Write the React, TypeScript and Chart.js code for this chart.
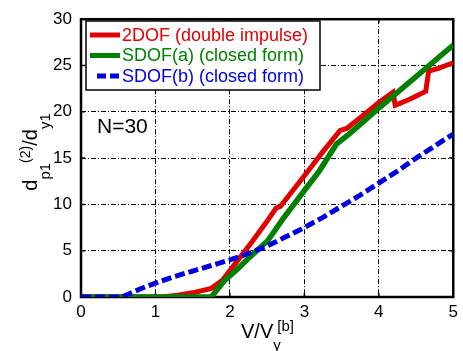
import React, { useEffect, useRef } from "react";
import { Chart, registerables } from "chart.js";

Chart.register(...registerables);

// ---- Data ----
const xTicks = [0, 1, 2, 3, 4, 5];
const yTicks = [0, 5, 10, 15, 20, 25, 30];

const red2dofX = [0, 1.1, 1.3, 1.5, 1.75, 1.9, 2.1, 2.3, 2.5, 2.62, 2.68, 3.0, 3.25, 3.48, 3.57, 3.8, 4.0, 4.19, 4.22, 4.4, 4.63, 4.67, 4.8, 5.0];
const red2dofY = [0, 0, 0.2, 0.45, 0.93, 1.8, 3.9, 6.0, 8.2, 9.6, 9.8, 13.1, 15.7, 18.0, 18.2, 19.7, 21.0, 22.1, 20.7, 21.3, 22.2, 24.4, 24.7, 25.3];

const greenSdofAX = [0, 1.75, 1.93, 2.1, 2.24, 2.51, 2.71, 3.0, 3.2, 3.43, 3.6, 4.0, 4.5, 5.0];
const greenSdofAY = [0, 0, 1.8, 3.0, 4.1, 6.1, 8.4, 11.5, 13.6, 16.5, 17.6, 20.4, 23.8, 27.2];

const blueSdofBX = [0, 0.55, 0.7, 0.85, 1.0, 1.25, 1.5, 1.75, 2.0, 2.25, 2.5, 2.75, 3.0, 3.25, 3.5, 3.75, 4.0, 4.25, 4.5, 4.75, 5.0];
const blueSdofBY = [0, 0, 0.55, 1.05, 1.5, 2.2, 2.8, 3.4, 4.0, 4.7, 5.5, 6.5, 7.5, 8.6, 9.8, 11.0, 12.3, 13.6, 15.0, 16.3, 17.6];

const legendLabels = ["2DOF (double impulse)", "SDOF(a) (closed form)", "SDOF(b) (closed form)"];

const RED = "#e00000";
const GREEN = "#008000";
const BLUE = "#0000dd";
const FONT = "'Liberation Sans', Arial, sans-serif";

const toPoints = (xs: number[], ys: number[]) => xs.map((x, i) => ({ x, y: ys[i] }));

const decorPlugin = {
  id: "decor",
  beforeDatasetsDraw(chart: any) {
    const { ctx, chartArea: a, scales } = chart;
    ctx.save();
    // inward tick marks
    ctx.strokeStyle = "#000";
    ctx.lineWidth = 1.5;
    ctx.setLineDash([]);
    const tl = 4;
    xTicks.forEach((v) => {
      const px = scales.x.getPixelForValue(v);
      ctx.beginPath();
      ctx.moveTo(px, a.bottom);
      ctx.lineTo(px, a.bottom - tl);
      ctx.moveTo(px, a.top);
      ctx.lineTo(px, a.top + tl);
      ctx.stroke();
    });
    yTicks.forEach((v) => {
      const py = scales.y.getPixelForValue(v);
      ctx.beginPath();
      ctx.moveTo(a.left, py);
      ctx.lineTo(a.left + tl, py);
      ctx.moveTo(a.right, py);
      ctx.lineTo(a.right - tl, py);
      ctx.stroke();
    });
    // frame
    ctx.lineWidth = 2.5;
    ctx.strokeRect(a.left, a.top, a.right - a.left, a.bottom - a.top);
    ctx.restore();
  },
  afterDatasetsDraw(chart: any) {
    const { ctx } = chart;
    ctx.save();
    // legend box
    const bx = 86, by = 21, bw = 234, bh = 69;
    ctx.fillStyle = "#fff";
    ctx.fillRect(bx, by, bw, bh);
    ctx.strokeStyle = "#000";
    ctx.lineWidth = 1.5;
    ctx.setLineDash([]);
    ctx.strokeRect(bx, by, bw, bh);
    const rows = [35, 55.5, 76];
    const colors = [RED, GREEN, BLUE];
    ctx.font = `18px ${FONT}`;
    ctx.textBaseline = "middle";
    ctx.textAlign = "left";
    rows.forEach((ry, i) => {
      ctx.strokeStyle = colors[i];
      ctx.lineWidth = 5;
      ctx.lineCap = "butt";
      ctx.beginPath();
      if (i === 2) {
        ctx.setLineDash([9, 4]);
        ctx.moveTo(97, ry);
      } else {
        ctx.setLineDash([]);
        ctx.moveTo(90, ry);
      }
      ctx.lineTo(120, ry);
      ctx.stroke();
      ctx.setLineDash([]);
      ctx.fillStyle = colors[i];
      ctx.fillText(legendLabels[i], 122, ry + 1);
    });
    // N=30 annotation
    ctx.fillStyle = "#000";
    ctx.font = `21px ${FONT}`;
    ctx.textBaseline = "alphabetic";
    ctx.fillText("N=30", 97, 133);
    ctx.restore();
  },
  afterDraw(chart: any) {
    const { ctx } = chart;
    ctx.save();
    ctx.fillStyle = "#000";
    ctx.textBaseline = "alphabetic";
    ctx.textAlign = "left";
    const F = `20px ${FONT}`;
    const f = `15px ${FONT}`;
    const fs = `14px ${FONT}`;
    // X title: V/V_y^[b]
    let x = 241;
    const base = 338;
    ctx.font = F;
    ctx.fillText("V/V", x, base);
    x += ctx.measureText("V/V").width;
    ctx.font = f;
    ctx.fillText("y", x, base + 12);
    ctx.fillText("[b]", x + 4, base - 7);

    // Y title: d_p1^(2)/d_y1 (rotated)
    const parts: [string, string, number][] = [
      ["d", F, 0],
      ["p1", f, 13],
      ["(2)", fs, -7],
      ["/d", F, 0],
      ["y1", f, 13],
    ];
    let total = 0;
    parts.forEach(([t, font]) => {
      ctx.font = font;
      total += ctx.measureText(t).width;
    });
    ctx.translate(37, 152 + total / 2);
    ctx.rotate(-Math.PI / 2);
    let cx = 0;
    parts.forEach(([t, font, dy]) => {
      ctx.font = font;
      ctx.fillText(t, cx, dy);
      cx += ctx.measureText(t).width;
    });
    ctx.restore();
  },
};

export default function App() {
  const ref = useRef<HTMLCanvasElement>(null);
  useEffect(() => {
    document.body.style.margin = "0";
    if (!ref.current) return;
    const chart = new Chart(ref.current, {
      type: "line",
      data: {
        datasets: [
          {
            label: legendLabels[0],
            data: toPoints(red2dofX, red2dofY),
            borderColor: RED,
            borderWidth: 5,
            pointRadius: 0,
            tension: 0,
            order: 3,
          },
          {
            label: legendLabels[1],
            data: toPoints(greenSdofAX, greenSdofAY),
            borderColor: GREEN,
            borderWidth: 5.5,
            pointRadius: 0,
            tension: 0,
            order: 2,
          },
          {
            label: legendLabels[2],
            data: toPoints(blueSdofBX, blueSdofBY),
            borderColor: BLUE,
            borderWidth: 5,
            borderDash: [10, 4],
            pointRadius: 0,
            tension: 0,
            order: 1,
          },
        ],
      },
      options: {
        animation: false,
        responsive: false,
        devicePixelRatio: 1,
        layout: { padding: { left: 0, right: 5, top: 16, bottom: 0 } },
        plugins: { legend: { display: false }, tooltip: { enabled: false } },
        scales: {
          x: {
            type: "linear",
            min: 0,
            max: 5,
            afterFit: (s: any) => {
              s.height = 54;
            },
            afterBuildTicks: (s: any) => {
              s.ticks = xTicks.map((v) => ({ value: v }));
            },
            ticks: {
              color: "#000",
              font: { family: FONT, size: 17 },
              padding: 5,
              maxRotation: 0,
            },
            grid: { color: "#000", lineWidth: 1, drawTicks: false },
            border: { display: false, dash: [5, 2, 1, 2] },
          },
          y: {
            type: "linear",
            min: 0,
            max: 30,
            afterFit: (s: any) => {
              s.width = 81;
            },
            afterBuildTicks: (s: any) => {
              s.ticks = yTicks.map((v) => ({ value: v }));
            },
            ticks: {
              color: "#000",
              font: { family: FONT, size: 17 },
              padding: 9,
            },
            grid: { color: "#000", lineWidth: 1, drawTicks: false },
            border: { display: false, dash: [5, 2, 1, 2] },
          },
        },
      },
      plugins: [decorPlugin],
    });
    return () => chart.destroy();
  }, []);
  return <canvas ref={ref} width={463} height={351} style={{ display: "block" }} />;
}
